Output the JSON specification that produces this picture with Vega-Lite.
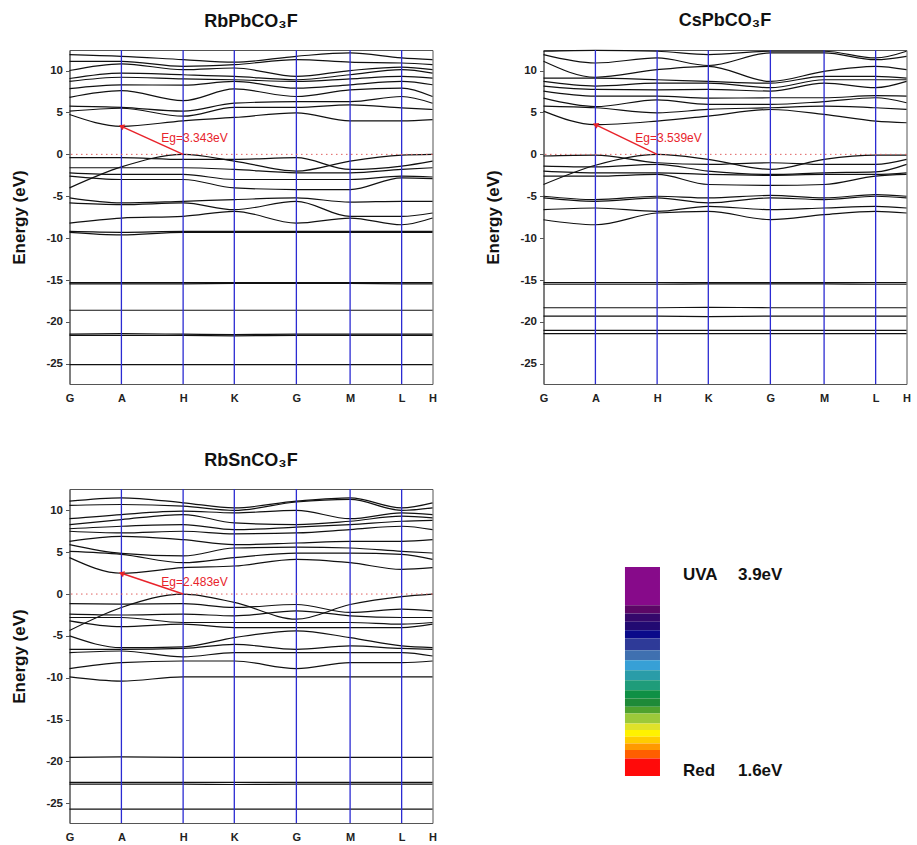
{
"$schema": "https://vega.github.io/schema/vega-lite/v6.json",
"padding": {"left": 9.5, "top": 11, "right": 0, "bottom": 0},
"config": {"font": "Liberation Sans", "view": {"stroke": "#555", "strokeWidth": 1}, "axis": {"grid": false, "domainColor": "#555", "tickColor": "#555", "labelColor": "#222", "labelFont": "Liberation Sans", "labelFontWeight": "bold"}},
"datasets": {
"kpath": [{"kp":"G1","k":0},{"kp":"A","k":0.143},{"kp":"H1","k":0.313},{"kp":"K","k":0.454},{"kp":"G2","k":0.625},{"kp":"M","k":0.773},{"kp":"L","k":0.915},{"kp":"H2","k":1}],
"gap": [{"p":1,"kp":"A","E":3.343},{"p":1,"kp":"H1","E":0},{"p":2,"kp":"A","E":3.539},{"p":2,"kp":"H1","E":0},{"p":3,"kp":"A","E":2.483},{"p":3,"kp":"H1","E":0}],
"eg": [{"p":1,"label":"Eg=3.343eV"},{"p":2,"label":"Eg=3.539eV"},{"p":3,"label":"Eg=2.483eV"}],
"bands": [
{"p":1,"b":"c1","G1":4.75,"A":3.343,"H1":4.0,"K":4.4,"G2":4.95,"M":4.0,"L":4.0,"H2":4.15},
{"p":1,"b":"c2","G1":5.15,"A":5.5,"H1":4.55,"K":5.6,"G2":5.6,"M":5.9,"L":5.55,"H2":5.35},
{"p":1,"b":"c3","G1":5.75,"A":5.6,"H1":5.15,"K":6.1,"G2":6.3,"M":6.3,"L":6.9,"H2":6.1},
{"p":1,"b":"c4","G1":6.8,"A":7.6,"H1":6.4,"K":7.8,"G2":6.9,"M":7.7,"L":7.9,"H2":6.9},
{"p":1,"b":"c5","G1":7.85,"A":8.3,"H1":8.25,"K":8.7,"G2":7.9,"M":8.3,"L":8.7,"H2":8.3},
{"p":1,"b":"c6","G1":8.7,"A":9.2,"H1":9.0,"K":8.9,"G2":8.7,"M":9.0,"L":9.3,"H2":9.1},
{"p":1,"b":"c7","G1":9.05,"A":9.7,"H1":9.5,"K":9.3,"G2":8.9,"M":9.5,"L":10.1,"H2":9.7},
{"p":1,"b":"c8","G1":10.0,"A":10.8,"H1":10.1,"K":10.3,"G2":9.3,"M":10.0,"L":10.4,"H2":10.1},
{"p":1,"b":"c9","G1":11.1,"A":11.1,"H1":10.5,"K":10.7,"G2":11.3,"M":11.0,"L":10.9,"H2":10.7},
{"p":1,"b":"c10","G1":11.9,"A":11.7,"H1":11.3,"K":11.0,"G2":11.7,"M":12.1,"L":11.5,"H2":11.3},
{"p":1,"b":"v1","G1":-4.0,"A":-1.5,"H1":0.0,"K":-0.8,"G2":-2.0,"M":-0.8,"L":-0.1,"H2":0.0},
{"p":1,"b":"v2","G1":-0.4,"A":-0.4,"H1":-0.6,"K":-0.6,"G2":-0.4,"M":-1.8,"L":-1.4,"H2":-0.8},
{"p":1,"b":"v3","G1":-1.6,"A":-1.6,"H1":-1.6,"K":-1.8,"G2":-2.2,"M":-2.2,"L":-1.8,"H2":-1.6},
{"p":1,"b":"v4","G1":-2.2,"A":-2.4,"H1":-2.4,"K":-3.0,"G2":-3.0,"M":-3.0,"L":-2.6,"H2":-2.7},
{"p":1,"b":"v5","G1":-2.6,"A":-3.0,"H1":-3.0,"K":-4.0,"G2":-4.2,"M":-4.2,"L":-2.8,"H2":-2.9},
{"p":1,"b":"v6","G1":-5.2,"A":-5.8,"H1":-5.6,"K":-5.4,"G2":-5.2,"M":-5.7,"L":-5.6,"H2":-5.6},
{"p":1,"b":"v7","G1":-5.8,"A":-6.0,"H1":-5.8,"K":-6.6,"G2":-5.6,"M":-7.4,"L":-7.4,"H2":-7.0},
{"p":1,"b":"v8","G1":-8.2,"A":-7.6,"H1":-7.4,"K":-6.8,"G2":-8.2,"M":-7.6,"L":-8.4,"H2":-7.6},
{"p":1,"b":"v9","G1":-9.2,"A":-9.3,"H1":-9.2,"K":-9.2,"G2":-9.2,"M":-9.2,"L":-9.2,"H2":-9.2},
{"p":1,"b":"v10","G1":-9.3,"A":-9.6,"H1":-9.3,"K":-9.3,"G2":-9.3,"M":-9.3,"L":-9.3,"H2":-9.3},
{"p":1,"b":"f1","G1":-15.3,"A":-15.3,"H1":-15.3,"K":-15.3,"G2":-15.3,"M":-15.3,"L":-15.3,"H2":-15.3},
{"p":1,"b":"f2","G1":-15.45,"A":-15.45,"H1":-15.45,"K":-15.4,"G2":-15.4,"M":-15.4,"L":-15.45,"H2":-15.45},
{"p":1,"b":"f3","G1":-18.6,"A":-18.6,"H1":-18.6,"K":-18.6,"G2":-18.6,"M":-18.6,"L":-18.6,"H2":-18.6},
{"p":1,"b":"f4","G1":-21.45,"A":-21.4,"H1":-21.45,"K":-21.5,"G2":-21.45,"M":-21.45,"L":-21.45,"H2":-21.45},
{"p":1,"b":"f5","G1":-21.6,"A":-21.6,"H1":-21.6,"K":-21.65,"G2":-21.6,"M":-21.6,"L":-21.6,"H2":-21.6},
{"p":1,"b":"f6","G1":-25.1,"A":-25.1,"H1":-25.1,"K":-25.1,"G2":-25.1,"M":-25.1,"L":-25.1,"H2":-25.1},
{"p":2,"b":"c1","G1":5.16,"A":3.539,"H1":3.97,"K":4.57,"G2":5.35,"M":4.77,"L":3.97,"H2":3.77},
{"p":2,"b":"c2","G1":5.76,"A":5.56,"H1":4.96,"K":5.36,"G2":5.56,"M":5.76,"L":5.56,"H2":5.36},
{"p":2,"b":"c3","G1":6.7,"A":5.7,"H1":6.5,"K":5.96,"G2":5.96,"M":6.3,"L":6.75,"H2":6.16},
{"p":2,"b":"c4","G1":7.55,"A":6.95,"H1":6.95,"K":6.7,"G2":6.75,"M":6.75,"L":7.0,"H2":6.95},
{"p":2,"b":"c5","G1":8.15,"A":7.75,"H1":7.7,"K":7.75,"G2":7.55,"M":8.5,"L":7.95,"H2":8.7},
{"p":2,"b":"c6","G1":8.7,"A":8.15,"H1":8.5,"K":8.5,"G2":7.95,"M":8.9,"L":8.9,"H2":8.9},
{"p":2,"b":"c7","G1":9.1,"A":9.1,"H1":8.9,"K":8.7,"G2":8.5,"M":9.3,"L":9.3,"H2":9.1},
{"p":2,"b":"c8","G1":11.1,"A":9.2,"H1":10.1,"K":10.5,"G2":8.7,"M":9.9,"L":10.5,"H2":10.1},
{"p":2,"b":"c9","G1":11.9,"A":10.9,"H1":11.5,"K":10.6,"G2":12.1,"M":12.1,"L":11.3,"H2":11.7},
{"p":2,"b":"c10","G1":12.3,"A":12.4,"H1":12.3,"K":11.9,"G2":12.3,"M":12.3,"L":11.5,"H2":12.3},
{"p":2,"b":"v1","G1":-3.6,"A":-1.3,"H1":0.0,"K":-0.6,"G2":-1.8,"M":-0.6,"L":-0.1,"H2":-0.1},
{"p":2,"b":"v2","G1":-0.2,"A":-0.1,"H1":-1.0,"K":-1.2,"G2":-1.0,"M":-1.2,"L":-1.2,"H2":-0.6},
{"p":2,"b":"v3","G1":-1.4,"A":-1.5,"H1":-1.2,"K":-2.0,"G2":-2.4,"M":-2.2,"L":-2.1,"H2":-1.2},
{"p":2,"b":"v4","G1":-2.0,"A":-2.2,"H1":-2.2,"K":-2.4,"G2":-2.5,"M":-2.4,"L":-2.4,"H2":-2.2},
{"p":2,"b":"v5","G1":-2.6,"A":-2.6,"H1":-2.4,"K":-3.6,"G2":-3.7,"M":-3.6,"L":-2.6,"H2":-2.4},
{"p":2,"b":"v6","G1":-5.0,"A":-5.4,"H1":-5.0,"K":-5.2,"G2":-4.9,"M":-5.2,"L":-4.8,"H2":-5.0},
{"p":2,"b":"v7","G1":-5.2,"A":-5.6,"H1":-5.2,"K":-5.8,"G2":-5.2,"M":-5.4,"L":-5.0,"H2":-5.2},
{"p":2,"b":"v8","G1":-6.6,"A":-6.4,"H1":-6.8,"K":-6.2,"G2":-6.6,"M":-6.4,"L":-6.2,"H2":-6.4},
{"p":2,"b":"v9","G1":-7.8,"A":-8.4,"H1":-7.0,"K":-6.8,"G2":-7.8,"M":-7.2,"L":-6.8,"H2":-7.0},
{"p":2,"b":"f1","G1":-15.3,"A":-15.3,"H1":-15.3,"K":-15.3,"G2":-15.3,"M":-15.3,"L":-15.3,"H2":-15.3},
{"p":2,"b":"f2","G1":-15.5,"A":-15.5,"H1":-15.5,"K":-15.45,"G2":-15.45,"M":-15.45,"L":-15.5,"H2":-15.5},
{"p":2,"b":"f3","G1":-18.3,"A":-18.3,"H1":-18.3,"K":-18.25,"G2":-18.3,"M":-18.3,"L":-18.3,"H2":-18.3},
{"p":2,"b":"f4","G1":-19.3,"A":-19.3,"H1":-19.3,"K":-19.35,"G2":-19.3,"M":-19.3,"L":-19.3,"H2":-19.3},
{"p":2,"b":"f5","G1":-21.0,"A":-21.0,"H1":-21.0,"K":-21.0,"G2":-21.0,"M":-21.0,"L":-21.0,"H2":-21.0},
{"p":2,"b":"f6","G1":-21.4,"A":-21.4,"H1":-21.4,"K":-21.4,"G2":-21.4,"M":-21.4,"L":-21.4,"H2":-21.4},
{"p":3,"b":"c1","G1":4.35,"A":2.483,"H1":3.15,"K":3.35,"G2":4.15,"M":3.75,"L":2.95,"H2":3.15},
{"p":3,"b":"c2","G1":5.1,"A":4.75,"H1":3.75,"K":4.35,"G2":4.9,"M":4.9,"L":4.75,"H2":4.15},
{"p":3,"b":"c3","G1":5.9,"A":4.85,"H1":4.55,"K":5.5,"G2":5.6,"M":5.5,"L":5.1,"H2":4.9},
{"p":3,"b":"c4","G1":6.3,"A":6.9,"H1":6.5,"K":5.9,"G2":6.1,"M":6.3,"L":6.3,"H2":6.5},
{"p":3,"b":"c5","G1":7.5,"A":7.3,"H1":7.5,"K":7.2,"G2":7.3,"M":7.7,"L":8.1,"H2":7.7},
{"p":3,"b":"c6","G1":7.8,"A":8.1,"H1":8.3,"K":7.7,"G2":8.0,"M":8.3,"L":8.7,"H2":8.8},
{"p":3,"b":"c7","G1":8.3,"A":8.9,"H1":9.5,"K":8.5,"G2":8.3,"M":8.7,"L":9.3,"H2":9.1},
{"p":3,"b":"c8","G1":9.0,"A":9.5,"H1":9.9,"K":9.7,"G2":10.0,"M":9.0,"L":9.7,"H2":9.5},
{"p":3,"b":"c9","G1":10.6,"A":10.7,"H1":10.5,"K":10.0,"G2":11.0,"M":11.3,"L":10.0,"H2":10.3},
{"p":3,"b":"c10","G1":11.1,"A":11.5,"H1":10.9,"K":10.3,"G2":11.1,"M":11.5,"L":10.3,"H2":10.9},
{"p":3,"b":"v1","G1":-4.35,"A":-1.6,"H1":0.0,"K":-1.0,"G2":-3.0,"M":-1.25,"L":-0.3,"H2":0.0},
{"p":3,"b":"v2","G1":-1.15,"A":-1.2,"H1":-1.15,"K":-1.6,"G2":-1.25,"M":-2.2,"L":-1.8,"H2":-2.0},
{"p":3,"b":"v3","G1":-2.4,"A":-2.5,"H1":-2.4,"K":-2.6,"G2":-2.0,"M":-2.6,"L":-2.8,"H2":-2.8},
{"p":3,"b":"v4","G1":-2.8,"A":-2.8,"H1":-3.4,"K":-3.4,"G2":-3.4,"M":-3.4,"L":-3.6,"H2":-3.4},
{"p":3,"b":"v5","G1":-3.2,"A":-3.9,"H1":-3.6,"K":-4.0,"G2":-4.0,"M":-4.0,"L":-4.0,"H2":-3.6},
{"p":3,"b":"v6","G1":-5.0,"A":-6.4,"H1":-6.3,"K":-5.2,"G2":-4.4,"M":-5.2,"L":-6.2,"H2":-6.4},
{"p":3,"b":"v7","G1":-6.6,"A":-6.6,"H1":-6.5,"K":-6.0,"G2":-6.6,"M":-6.2,"L":-6.5,"H2":-6.6},
{"p":3,"b":"v8","G1":-7.0,"A":-6.8,"H1":-7.5,"K":-7.0,"G2":-7.0,"M":-7.0,"L":-7.0,"H2":-7.4},
{"p":3,"b":"v9","G1":-8.9,"A":-8.2,"H1":-8.0,"K":-8.0,"G2":-8.9,"M":-8.2,"L":-8.2,"H2":-8.0},
{"p":3,"b":"v10","G1":-9.9,"A":-10.4,"H1":-9.9,"K":-9.9,"G2":-9.9,"M":-9.9,"L":-9.9,"H2":-9.9},
{"p":3,"b":"f1","G1":-19.5,"A":-19.45,"H1":-19.5,"K":-19.5,"G2":-19.5,"M":-19.5,"L":-19.5,"H2":-19.5},
{"p":3,"b":"f2","G1":-22.5,"A":-22.5,"H1":-22.5,"K":-22.5,"G2":-22.5,"M":-22.5,"L":-22.5,"H2":-22.5},
{"p":3,"b":"f3","G1":-22.7,"A":-22.7,"H1":-22.7,"K":-22.75,"G2":-22.7,"M":-22.7,"L":-22.7,"H2":-22.7},
{"p":3,"b":"f4","G1":-25.7,"A":-25.7,"H1":-25.7,"K":-25.7,"G2":-25.7,"M":-25.7,"L":-25.7,"H2":-25.7}
],
"cbar": [
{"s":1,"lo":3.479,"hi":3.9},{"s":2,"lo":3.387,"hi":3.479},{"s":3,"lo":3.296,"hi":3.387},{"s":4,"lo":3.204,"hi":3.296},
{"s":5,"lo":3.113,"hi":3.204},{"s":6,"lo":2.984,"hi":3.113},{"s":7,"lo":2.875,"hi":2.984},{"s":8,"lo":2.765,"hi":2.875},
{"s":9,"lo":2.655,"hi":2.765},{"s":10,"lo":2.545,"hi":2.655},{"s":11,"lo":2.453,"hi":2.545},{"s":12,"lo":2.362,"hi":2.453},
{"s":13,"lo":2.289,"hi":2.362},{"s":14,"lo":2.179,"hi":2.289},{"s":15,"lo":2.105,"hi":2.179},{"s":16,"lo":2.032,"hi":2.105},
{"s":17,"lo":1.959,"hi":2.032},{"s":18,"lo":1.886,"hi":1.959},{"s":19,"lo":1.794,"hi":1.886},{"s":20,"lo":1.6,"hi":1.794}
],
"cblab": [{"band":"UVA","ev":"3.9eV","E":3.9},{"band":"Red","ev":"1.6eV","E":1.6}]
},
"spacing": 47,
"vconcat": [
{"spacing": 46, "hconcat": [
{"width": 363, "height": 334,
 "title": {"text": "RbPbCO₃F", "fontSize": 18, "fontWeight": "bold", "font": "Liberation Sans", "offset": 18, "color": "#111"},
 "layer": [
  {"data": {"name": "bands"}, "transform": [{"filter": "datum.p == 1"}, {"fold": ["G1","A","H1","K","G2","M","L","H2"], "as": ["kp","E"]}, {"lookup": "kp", "from": {"data": {"name": "kpath"}, "key": "kp", "fields": ["k"]}}],
   "mark": {"type": "line", "interpolate": "monotone", "color": "#111", "strokeWidth": 1.2},
   "encoding": {
    "x": {"field": "k", "type": "quantitative", "scale": {"domain": [0, 1], "nice": false, "zero": false},
      "axis": {"title": null, "values": [0,0.143,0.313,0.454,0.625,0.773,0.915,1], "labelExpr": "datum.value < 0.05 ? 'G' : datum.value < 0.2 ? 'A' : datum.value < 0.38 ? 'H' : datum.value < 0.5 ? 'K' : datum.value < 0.7 ? 'G' : datum.value < 0.85 ? 'M' : datum.value < 0.95 ? 'L' : 'H'", "ticks": false, "labelPadding": 8, "labelFontSize": 11, "labelFlush": false, "labelOverlap": false}},
    "y": {"field": "E", "type": "quantitative", "scale": {"domain": [-27.4, 12.45], "nice": false, "zero": false},
      "axis": {"title": "Energy (eV)", "titleFontSize": 17, "titleFontWeight": "bold", "titleColor": "#111", "titleX": -50, "titleY": 167, "titleAngle": 270, "titleAlign": "center", "titleBaseline": "middle", "values": [-25,-22.5,-20,-17.5,-15,-12.5,-10,-7.5,-5,-2.5,0,2.5,5,7.5,10], "labelExpr": "datum.value % 5 === 0 ? toString(datum.value) : ''", "labelFontSize": 11.5, "labelPadding": 3, "tickSize": 4}},
    "detail": {"field": "b"}}},
  {"data": {"name": "kpath"}, "transform": [{"filter": "datum.k > 0 && datum.k < 1"}], "mark": {"type": "rule", "color": "#2b2bd2", "strokeWidth": 1.3}, "encoding": {"x": {"field": "k", "type": "quantitative"}}},
  {"data": {"values": [{}]}, "mark": {"type": "rule", "color": "#e06060", "strokeWidth": 1, "strokeDash": [1.5, 3.5]}, "encoding": {"y": {"datum": 0, "type": "quantitative"}}},
  {"data": {"name": "gap"}, "transform": [{"filter": "datum.p == 1"}, {"lookup": "kp", "from": {"data": {"name": "kpath"}, "key": "kp", "fields": ["k"]}}], "mark": {"type": "line", "color": "#e8232b", "strokeWidth": 1.5}, "encoding": {"x": {"field": "k", "type": "quantitative"}, "y": {"field": "E", "type": "quantitative"}}},
  {"data": {"name": "gap"}, "transform": [{"filter": "datum.p == 1 && datum.kp == 'A'"}, {"lookup": "kp", "from": {"data": {"name": "kpath"}, "key": "kp", "fields": ["k"]}}], "mark": {"type": "point", "shape": "triangle-left", "filled": true, "color": "#e8232b", "opacity": 1, "size": 40, "angle": 24}, "encoding": {"x": {"field": "k", "type": "quantitative"}, "y": {"field": "E", "type": "quantitative"}}},
  {"data": {"name": "eg"}, "transform": [{"filter": "datum.p == 1"}], "mark": {"type": "text", "align": "left", "baseline": "middle", "color": "#e8232b", "fontSize": 12, "font": "Liberation Sans Narrow, Liberation Sans, sans-serif"}, "encoding": {"x": {"datum": 0.253, "type": "quantitative"}, "y": {"datum": 1.95, "type": "quantitative"}, "text": {"field": "label"}}}
 ]},
{"width": 363, "height": 334,
 "title": {"text": "CsPbCO₃F", "fontSize": 18, "fontWeight": "bold", "font": "Liberation Sans", "offset": 18, "color": "#111"},
 "layer": [
  {"data": {"name": "bands"}, "transform": [{"filter": "datum.p == 2"}, {"fold": ["G1","A","H1","K","G2","M","L","H2"], "as": ["kp","E"]}, {"lookup": "kp", "from": {"data": {"name": "kpath"}, "key": "kp", "fields": ["k"]}}],
   "mark": {"type": "line", "interpolate": "monotone", "color": "#111", "strokeWidth": 1.2},
   "encoding": {
    "x": {"field": "k", "type": "quantitative", "scale": {"domain": [0, 1], "nice": false, "zero": false},
      "axis": {"title": null, "values": [0,0.143,0.313,0.454,0.625,0.773,0.915,1], "labelExpr": "datum.value < 0.05 ? 'G' : datum.value < 0.2 ? 'A' : datum.value < 0.38 ? 'H' : datum.value < 0.5 ? 'K' : datum.value < 0.7 ? 'G' : datum.value < 0.85 ? 'M' : datum.value < 0.95 ? 'L' : 'H'", "ticks": false, "labelPadding": 8, "labelFontSize": 11, "labelFlush": false, "labelOverlap": false}},
    "y": {"field": "E", "type": "quantitative", "scale": {"domain": [-27.4, 12.45], "nice": false, "zero": false},
      "axis": {"title": "Energy (eV)", "titleFontSize": 17, "titleFontWeight": "bold", "titleColor": "#111", "titleX": -50, "titleY": 167, "titleAngle": 270, "titleAlign": "center", "titleBaseline": "middle", "values": [-25,-22.5,-20,-17.5,-15,-12.5,-10,-7.5,-5,-2.5,0,2.5,5,7.5,10], "labelExpr": "datum.value % 5 === 0 ? toString(datum.value) : ''", "labelFontSize": 11.5, "labelPadding": 3, "tickSize": 4}},
    "detail": {"field": "b"}}},
  {"data": {"name": "kpath"}, "transform": [{"filter": "datum.k > 0 && datum.k < 1"}], "mark": {"type": "rule", "color": "#2b2bd2", "strokeWidth": 1.3}, "encoding": {"x": {"field": "k", "type": "quantitative"}}},
  {"data": {"values": [{}]}, "mark": {"type": "rule", "color": "#e06060", "strokeWidth": 1, "strokeDash": [1.5, 3.5]}, "encoding": {"y": {"datum": 0, "type": "quantitative"}}},
  {"data": {"name": "gap"}, "transform": [{"filter": "datum.p == 2"}, {"lookup": "kp", "from": {"data": {"name": "kpath"}, "key": "kp", "fields": ["k"]}}], "mark": {"type": "line", "color": "#e8232b", "strokeWidth": 1.5}, "encoding": {"x": {"field": "k", "type": "quantitative"}, "y": {"field": "E", "type": "quantitative"}}},
  {"data": {"name": "gap"}, "transform": [{"filter": "datum.p == 2 && datum.kp == 'A'"}, {"lookup": "kp", "from": {"data": {"name": "kpath"}, "key": "kp", "fields": ["k"]}}], "mark": {"type": "point", "shape": "triangle-left", "filled": true, "color": "#e8232b", "opacity": 1, "size": 40, "angle": 25}, "encoding": {"x": {"field": "k", "type": "quantitative"}, "y": {"field": "E", "type": "quantitative"}}},
  {"data": {"name": "eg"}, "transform": [{"filter": "datum.p == 2"}], "mark": {"type": "text", "align": "left", "baseline": "middle", "color": "#e8232b", "fontSize": 12, "font": "Liberation Sans Narrow, Liberation Sans, sans-serif"}, "encoding": {"x": {"datum": 0.253, "type": "quantitative"}, "y": {"datum": 1.98, "type": "quantitative"}, "text": {"field": "label"}}}
 ]}
]},
{"spacing": 10, "hconcat": [
{"width": 363, "height": 334,
 "title": {"text": "RbSnCO₃F", "fontSize": 18, "fontWeight": "bold", "font": "Liberation Sans", "offset": 18, "color": "#111"},
 "layer": [
  {"data": {"name": "bands"}, "transform": [{"filter": "datum.p == 3"}, {"fold": ["G1","A","H1","K","G2","M","L","H2"], "as": ["kp","E"]}, {"lookup": "kp", "from": {"data": {"name": "kpath"}, "key": "kp", "fields": ["k"]}}],
   "mark": {"type": "line", "interpolate": "monotone", "color": "#111", "strokeWidth": 1.2},
   "encoding": {
    "x": {"field": "k", "type": "quantitative", "scale": {"domain": [0, 1], "nice": false, "zero": false},
      "axis": {"title": null, "values": [0,0.143,0.313,0.454,0.625,0.773,0.915,1], "labelExpr": "datum.value < 0.05 ? 'G' : datum.value < 0.2 ? 'A' : datum.value < 0.38 ? 'H' : datum.value < 0.5 ? 'K' : datum.value < 0.7 ? 'G' : datum.value < 0.85 ? 'M' : datum.value < 0.95 ? 'L' : 'H'", "ticks": false, "labelPadding": 8, "labelFontSize": 11, "labelFlush": false, "labelOverlap": false}},
    "y": {"field": "E", "type": "quantitative", "scale": {"domain": [-27.35, 12.55], "nice": false, "zero": false},
      "axis": {"title": "Energy (eV)", "titleFontSize": 17, "titleFontWeight": "bold", "titleColor": "#111", "titleX": -50, "titleY": 167, "titleAngle": 270, "titleAlign": "center", "titleBaseline": "middle", "values": [-25,-22.5,-20,-17.5,-15,-12.5,-10,-7.5,-5,-2.5,0,2.5,5,7.5,10], "labelExpr": "datum.value % 5 === 0 ? toString(datum.value) : ''", "labelFontSize": 11.5, "labelPadding": 3, "tickSize": 4}},
    "detail": {"field": "b"}}},
  {"data": {"name": "kpath"}, "transform": [{"filter": "datum.k > 0 && datum.k < 1"}], "mark": {"type": "rule", "color": "#2b2bd2", "strokeWidth": 1.3}, "encoding": {"x": {"field": "k", "type": "quantitative"}}},
  {"data": {"values": [{}]}, "mark": {"type": "rule", "color": "#e06060", "strokeWidth": 1, "strokeDash": [1.5, 3.5]}, "encoding": {"y": {"datum": 0, "type": "quantitative"}}},
  {"data": {"name": "gap"}, "transform": [{"filter": "datum.p == 3"}, {"lookup": "kp", "from": {"data": {"name": "kpath"}, "key": "kp", "fields": ["k"]}}], "mark": {"type": "line", "color": "#e8232b", "strokeWidth": 1.5}, "encoding": {"x": {"field": "k", "type": "quantitative"}, "y": {"field": "E", "type": "quantitative"}}},
  {"data": {"name": "gap"}, "transform": [{"filter": "datum.p == 3 && datum.kp == 'A'"}, {"lookup": "kp", "from": {"data": {"name": "kpath"}, "key": "kp", "fields": ["k"]}}], "mark": {"type": "point", "shape": "triangle-left", "filled": true, "color": "#e8232b", "opacity": 1, "size": 40, "angle": 19}, "encoding": {"x": {"field": "k", "type": "quantitative"}, "y": {"field": "E", "type": "quantitative"}}},
  {"data": {"name": "eg"}, "transform": [{"filter": "datum.p == 3"}], "mark": {"type": "text", "align": "left", "baseline": "middle", "color": "#e8232b", "fontSize": 12, "font": "Liberation Sans Narrow, Liberation Sans, sans-serif"}, "encoding": {"x": {"datum": 0.253, "type": "quantitative"}, "y": {"datum": 1.43, "type": "quantitative"}, "text": {"field": "label"}}}
 ]},
{"width": 470, "height": 334, "view": {"stroke": null},
 "layer": [
  {"data": {"name": "cbar"}, "mark": {"type": "rect"},
   "encoding": {
    "x": {"datum": 0.3776, "type": "quantitative", "scale": {"domain": [0, 1], "nice": false, "zero": false}, "axis": null},
    "x2": {"datum": 0.4521},
    "y": {"field": "lo", "type": "quantitative", "scale": {"domain": [1.083, 4.758], "nice": false, "zero": false}, "axis": null},
    "y2": {"field": "hi"},
    "color": {"field": "s", "type": "ordinal", "legend": null, "scale": {"domain": [1,2,3,4,5,6,7,8,9,10,11,12,13,14,15,16,17,18,19,20], "range": ["#870a8a","#5c0766","#35086b","#220a72","#0a0a8a","#2e3a98","#3f70b0","#37a0d6","#2a9ca8","#1f9c7a","#0f9045","#1e8a38","#4fa22e","#9cc93a","#dfe22a","#fff200","#ffcc00","#ff9a00","#ff5e00","#ff0a0a"]}}}},
  {"data": {"name": "cblab"}, "transform": [{"filter": "datum.E > 3"}], "mark": {"type": "text", "align": "left", "baseline": "top", "fontSize": 17, "fontWeight": "bold", "color": "#111"}, "encoding": {"x": {"datum": 0.501, "type": "quantitative", "axis": null}, "y": {"field": "E", "type": "quantitative", "axis": null}, "text": {"field": "band"}}},
  {"data": {"name": "cblab"}, "transform": [{"filter": "datum.E > 3"}], "mark": {"type": "text", "align": "left", "baseline": "top", "fontSize": 17, "fontWeight": "bold", "color": "#111"}, "encoding": {"x": {"datum": 0.618, "type": "quantitative", "axis": null}, "y": {"field": "E", "type": "quantitative", "axis": null}, "text": {"field": "ev"}}},
  {"data": {"name": "cblab"}, "transform": [{"filter": "datum.E < 3"}], "mark": {"type": "text", "align": "left", "baseline": "alphabetic", "fontSize": 17, "fontWeight": "bold", "color": "#111"}, "encoding": {"x": {"datum": 0.501, "type": "quantitative", "axis": null}, "y": {"field": "E", "type": "quantitative", "axis": null}, "text": {"field": "band"}}},
  {"data": {"name": "cblab"}, "transform": [{"filter": "datum.E < 3"}], "mark": {"type": "text", "align": "left", "baseline": "alphabetic", "fontSize": 17, "fontWeight": "bold", "color": "#111"}, "encoding": {"x": {"datum": 0.618, "type": "quantitative", "axis": null}, "y": {"field": "E", "type": "quantitative", "axis": null}, "text": {"field": "ev"}}}
 ]}
]}
]
}
